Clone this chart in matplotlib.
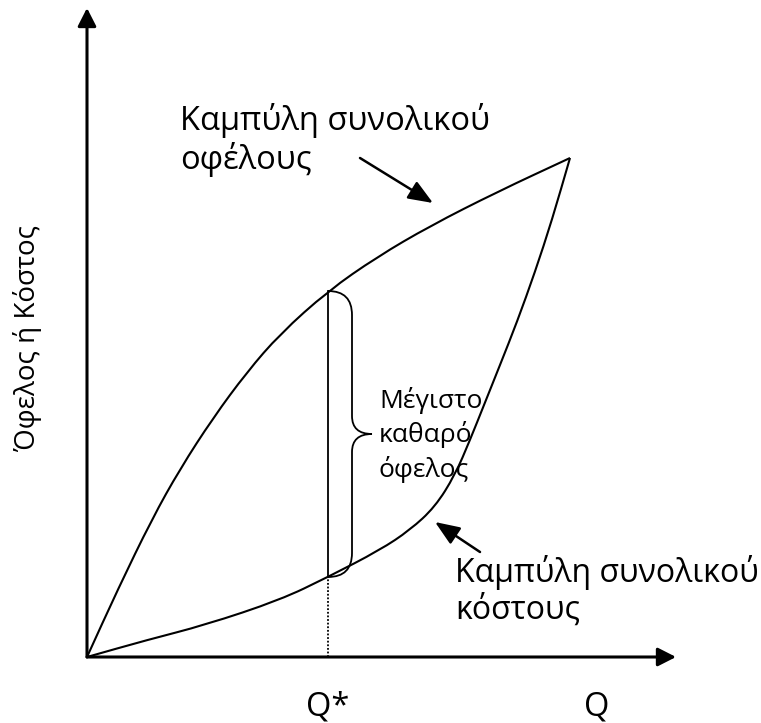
import matplotlib
matplotlib.use("Agg")
import matplotlib.pyplot as plt
from matplotlib.path import Path
from matplotlib.patches import PathPatch

plt.rcParams['font.family'] = ['Open Sans', 'DejaVu Sans']

# Quantity (x) and value (y) (arbitrary units)
benefit_q = [0, 31, 65, 93, 126, 160, 193, 241, 290, 343, 410, 483]
benefit_v = [0, 68, 138, 188, 239, 285, 323, 366, 400, 431, 465, 499]
cost_q = [0, 60, 118, 193, 241, 293, 323, 348, 368, 383, 397, 413, 430, 448, 465, 483]
cost_v = [0, 17, 32, 57, 80, 107, 127, 150, 182, 217, 252, 292, 335, 385, 437, 499]
q_star = 241
q_star_benefit = 366
q_star_cost = 80

tick_labels = ["Q*", "Q"]
y_label = "Όφελος ή Κόστος"
benefit_label = "Καμπύλη συνολικού\nοφέλους"
cost_label = "Καμπύλη συνολικού\nκόστους"
net_label = "Μέγιστο\nκαθαρό\nόφελος"


def smooth_path(xs, ys):
    pts = list(zip(xs, ys))
    verts = [pts[0]]
    codes = [Path.MOVETO]
    mids = [((pts[i][0] + pts[i + 1][0]) / 2, (pts[i][1] + pts[i + 1][1]) / 2)
            for i in range(len(pts) - 1)]
    verts.append(mids[0]); codes.append(Path.LINETO)
    for i in range(1, len(pts) - 1):
        verts += [pts[i], mids[i]]
        codes += [Path.CURVE3, Path.CURVE3]
    verts.append(pts[-1]); codes.append(Path.LINETO)
    return Path(verts, codes)


fig = plt.figure(figsize=(7.61, 7.23), dpi=100)
ax = fig.add_axes([0, 0, 1, 1])
ax.set_xlim(-87, 674)
ax.set_ylim(-66, 657)
ax.axis('off')

axis_arrow = dict(arrowstyle='-|>,head_length=0.55,head_width=0.28',
                  lw=2.2, color='black', mutation_scale=20,
                  shrinkA=0, shrinkB=0)
ax.annotate('', xy=(0, 649), xytext=(0, 0), arrowprops=axis_arrow)
ax.annotate('', xy=(589, 0), xytext=(0, 0), arrowprops=axis_arrow)

# curves
ax.add_patch(PathPatch(smooth_path(benefit_q, benefit_v), fill=False,
                       lw=1.5, color='black', joinstyle='round'))
ax.add_patch(PathPatch(smooth_path(cost_q, cost_v), fill=False,
                       lw=1.5, color='black', joinstyle='round'))

# Q* lines
ax.plot([q_star, q_star], [q_star_cost, q_star_benefit], color='black', lw=1.3)
ax.plot([q_star, q_star], [0, q_star_cost], color='black', lw=1.3,
        ls=(0, (1, 1)))

# brace
top, bot = q_star_benefit, q_star_cost
mid = (top + bot) / 2
x1, x2 = q_star + 24, q_star + 44
r = 24
verts = [(q_star, top), (x1, top), (x1, top - r),
         (x1, mid + 18), (x1, mid), (x2, mid),
         (x1, mid), (x1, mid - 18),
         (x1, bot + r), (x1, bot), (q_star, bot)]
codes = [Path.MOVETO, Path.CURVE3, Path.CURVE3,
         Path.LINETO, Path.CURVE3, Path.CURVE3,
         Path.CURVE3, Path.CURVE3,
         Path.LINETO, Path.CURVE3, Path.CURVE3]
ax.add_patch(PathPatch(Path(verts, codes), fill=False, lw=1.3, color='black'))

# labels
ax.text(q_star + 51, mid - 1, net_label, fontsize=19, ha='left', va='center',
        linespacing=1.38)
ax.text(93, 517, benefit_label, fontsize=23.5, ha='left', va='center',
        linespacing=1.15)
ax.text(368, 66, cost_label, fontsize=23, ha='left', va='center',
        linespacing=1.17)
ax.text(q_star, -50, tick_labels[0], fontsize=23.5, ha='center', va='center')
ax.text(510, -50, tick_labels[1], fontsize=23.5, ha='center', va='center')
ax.text(-59, 319, y_label, fontsize=20, rotation=90, ha='center', va='center')

# pointer arrows
ptr = dict(arrowstyle='-|>,head_length=0.75,head_width=0.3',
           lw=1.8, color='black', mutation_scale=20, shrinkA=0, shrinkB=0)
ax.annotate('', xy=(346, 454), xytext=(273, 499), arrowprops=ptr)
ax.annotate('', xy=(348, 135), xytext=(393, 105), arrowprops=ptr)

fig.savefig('out.png', dpi=100)
